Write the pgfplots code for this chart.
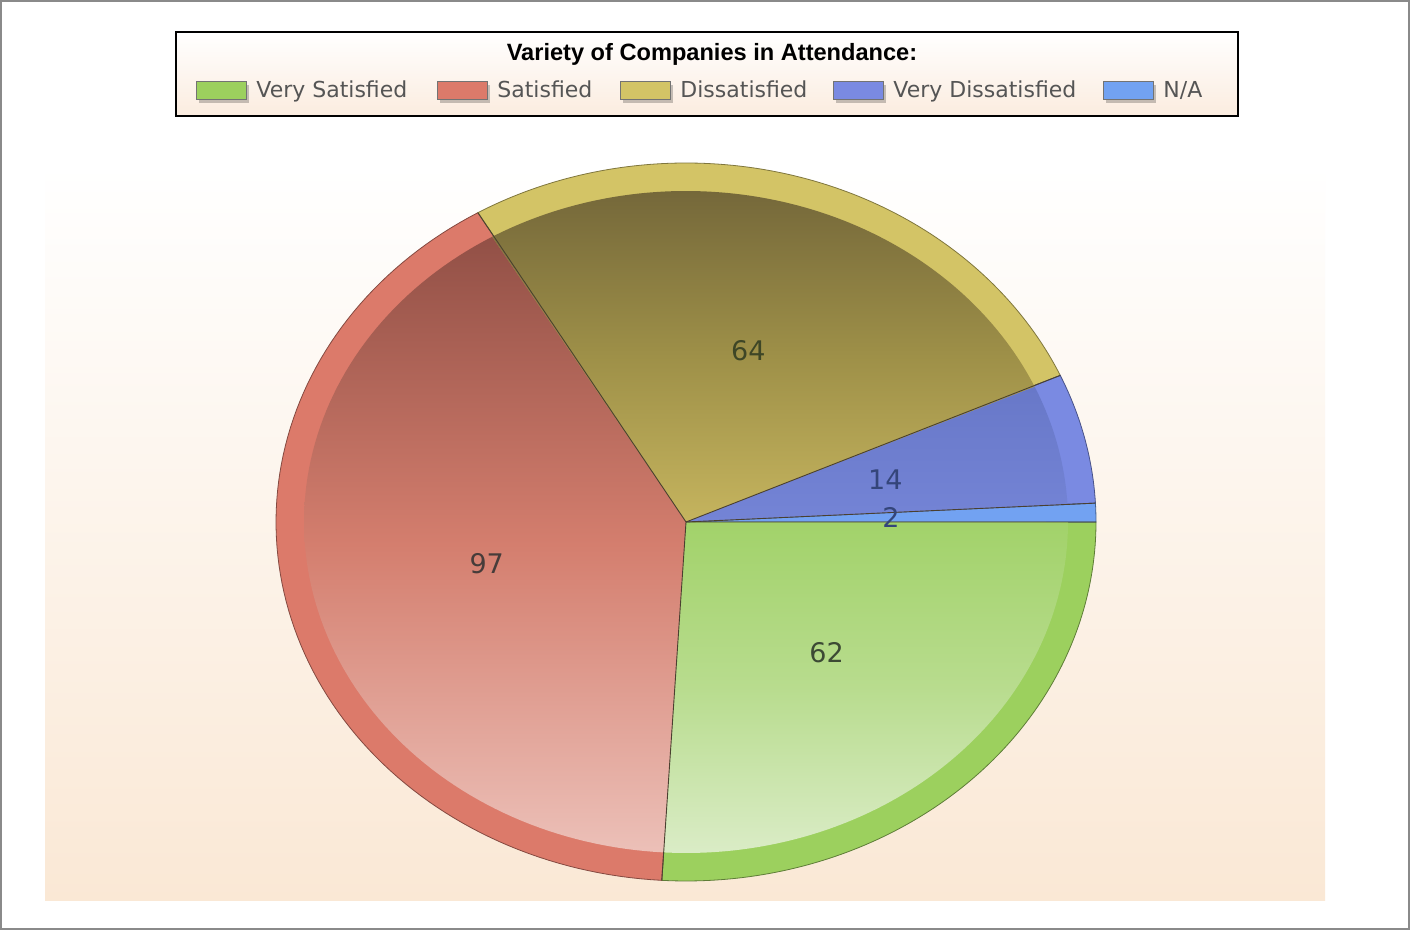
\documentclass[border=0pt]{standalone}
\usepackage{fontspec}
\setmainfont{DejaVu Sans}
\newfontfamily\titlefont{Liberation Sans}
\usepackage{pgfplots}
\pgfplotsset{compat=1.18}

% slice colours: rim, inner top, inner middle, inner bottom
\definecolor{vsrim}{HTML}{9CD05E}
\definecolor{vsT}{HTML}{A2D26A}
\definecolor{vsM}{HTML}{B8DC8E}
\definecolor{vsB}{HTML}{DAECC6}
\definecolor{srim}{HTML}{DC7A6A}
\definecolor{sT}{HTML}{925046}
\definecolor{sM}{HTML}{D47E6E}
\definecolor{sB}{HTML}{ECC0B8}
\definecolor{drim}{HTML}{D3C466}
\definecolor{dT}{HTML}{75683A}
\definecolor{dM}{HTML}{9E9048}
\definecolor{dB}{HTML}{C5B45E}
\definecolor{vdrim}{HTML}{7A8AE2}
\definecolor{vdT}{HTML}{6878C8}
\definecolor{vdB}{HTML}{7484D6}
\definecolor{narim}{HTML}{72A2F2}
\definecolor{bgbot}{HTML}{FAE8D5}
\definecolor{legbot}{HTML}{FBECDF}
\definecolor{frame}{HTML}{8A8A8A}
\definecolor{legtext}{HTML}{555555}
\definecolor{sepc}{HTML}{4A4030}
\definecolor{labA}{HTML}{3C4A34}
\definecolor{labB}{HTML}{463C3A}
\definecolor{labC}{HTML}{3E4626}
\definecolor{labD}{HTML}{34457A}

% data
\def\vVS{62}
\def\vS{97}
\def\vD{64}
\def\vVD{14}
\def\vNA{2}
\pgfmathsetmacro\tot{\vVS+\vS+\vD+\vVD+\vNA}
\pgfmathsetmacro\deg{360/\tot}
\pgfmathsetmacro\aA{-\deg*\vVS}
\pgfmathsetmacro\aB{\aA-\deg*\vS}
\pgfmathsetmacro\aC{\aB-\deg*\vD}
\pgfmathsetmacro\aD{\aC-\deg*\vVD}
\pgfmathsetmacro\aE{\aD-\deg*\vNA}

% label positions (half radius, mid angle)
\pgfmathsetmacro\lAx{686+205*cos(\aA/2)}
\pgfmathsetmacro\lAy{408+179.5*sin(\aA/2)}
\pgfmathsetmacro\lBx{686+205*cos((\aA+\aB)/2)}
\pgfmathsetmacro\lBy{408+179.5*sin((\aA+\aB)/2)}
\pgfmathsetmacro\lCx{686+205*cos((\aB+\aC)/2)}
\pgfmathsetmacro\lCy{408+179.5*sin((\aB+\aC)/2)}
\pgfmathsetmacro\lDx{686+205*cos((\aC+\aD)/2)}
\pgfmathsetmacro\lDy{408+179.5*sin((\aC+\aD)/2)}
\pgfmathsetmacro\lEx{686+205*cos((\aD+\aE)/2)}
\pgfmathsetmacro\lEy{408+179.5*sin((\aD+\aE)/2)}

% boundary end points
\pgfmathsetmacro\bAx{686+410*cos(\aA)}
\pgfmathsetmacro\bAy{408+359*sin(\aA)}
\pgfmathsetmacro\bBx{686+410*cos(\aB)}
\pgfmathsetmacro\bBy{408+359*sin(\aB)}
\pgfmathsetmacro\bCx{686+410*cos(\aC)}
\pgfmathsetmacro\bCy{408+359*sin(\aC)}
\pgfmathsetmacro\bDx{686+410*cos(\aD)}
\pgfmathsetmacro\bDy{408+359*sin(\aD)}

\newcommand\legfont{\fontsize{11}{13}\selectfont}
\newcommand\labfont{\fontsize{13.5}{16}\selectfont}

\begin{document}
\begin{tikzpicture}
\begin{axis}[width=705pt, height=465pt, scale only axis,
  xmin=0, xmax=1410, ymin=0, ymax=930,
  hide axis, clip=false, no markers, samples=100]

% frame and background
\addplot[draw=frame, line width=1pt, fill=white] coordinates {(1,1) (1409,1) (1409,929) (1,929)} -- cycle;
\addplot[draw=none, top color=white, bottom color=bgbot] coordinates {(45,30) (1325,30) (1325,765) (45,765)} -- cycle;

% outer rims
\addplot[draw=vsrim!60!black, line width=0.4pt, fill=vsrim, domain=\aA:0]
  ({686+410*cos(x)},{408+359*sin(x)}) -- (axis cs:686,408) -- cycle;
\addplot[draw=srim!60!black, line width=0.4pt, fill=srim, domain=\aB:\aA]
  ({686+410*cos(x)},{408+359*sin(x)}) -- (axis cs:686,408) -- cycle;
\addplot[draw=drim!60!black, line width=0.4pt, fill=drim, domain=\aC:\aB]
  ({686+410*cos(x)},{408+359*sin(x)}) -- (axis cs:686,408) -- cycle;
\addplot[draw=vdrim!60!black, line width=0.4pt, fill=vdrim, domain=\aD:\aC, samples=30]
  ({686+410*cos(x)},{408+359*sin(x)}) -- (axis cs:686,408) -- cycle;
\addplot[draw=narim!60!black, line width=0.4pt, fill=narim, domain=\aE:\aD, samples=8]
  ({686+410*cos(x)},{408+359*sin(x)}) -- (axis cs:686,408) -- cycle;

% inner shaded faces (middle colour must come last)
\addplot[draw=none, top color=vsT, bottom color=vsB, middle color=vsM, domain=\aA:0]
  ({686+382*cos(x)},{408+331*sin(x)}) -- (axis cs:686,408) -- cycle;
\addplot[draw=none, top color=sT, bottom color=sB, middle color=sM, domain=\aB:\aA]
  ({686+382*cos(x)},{408+331*sin(x)}) -- (axis cs:686,408) -- cycle;
\addplot[draw=none, top color=dT, bottom color=dB, middle color=dM, domain=\aC:\aB]
  ({686+382*cos(x)},{408+331*sin(x)}) -- (axis cs:686,408) -- cycle;
\addplot[draw=none, top color=vdT, bottom color=vdB, domain=\aD:\aC, samples=30]
  ({686+382*cos(x)},{408+331*sin(x)}) -- (axis cs:686,408) -- cycle;

% slice boundaries
\addplot[draw=sepc, line width=0.45pt] coordinates {(1096,408) (686,408) (\bAx,\bAy)};
\addplot[draw=sepc, line width=0.45pt] coordinates {(686,408) (\bBx,\bBy)};
\addplot[draw=sepc, line width=0.45pt] coordinates {(686,408) (\bCx,\bCy)};
\addplot[draw=sepc, line width=0.45pt] coordinates {(686,408) (\bDx,\bDy)};

% slice labels
\node[text=labA, font=\labfont] at (axis cs:\lAx,\lAy) {62};
\node[text=labB, font=\labfont] at (axis cs:\lBx,\lBy) {97};
\node[text=labC, font=\labfont] at (axis cs:\lCx,\lCy) {64};
\node[text=labD, font=\labfont] at (axis cs:\lDx,\lDy) {14};
\node[text=labD, font=\labfont] at (axis cs:\lEx,\lEy) {2};

% legend box
\addplot[draw=black, line width=0.75pt, top color=white, bottom color=legbot] coordinates {(176,814) (1238,814) (1238,898) (176,898)} -- cycle;
\node[anchor=base, font=\titlefont\bfseries\fontsize{11.8}{14}\selectfont] at (axis cs:712,869) {Variety of Companies in Attendance:};

% swatches
\fill[black, opacity=0.22] (axis cs:199,827) rectangle (axis cs:249,845);
\draw[black!55, line width=0.5pt, fill=vsrim] (axis cs:196,830) rectangle (axis cs:246,848);
\fill[black, opacity=0.22] (axis cs:440,827) rectangle (axis cs:490,845);
\draw[black!55, line width=0.5pt, fill=srim] (axis cs:437,830) rectangle (axis cs:487,848);
\fill[black, opacity=0.22] (axis cs:623,827) rectangle (axis cs:673,845);
\draw[black!55, line width=0.5pt, fill=drim] (axis cs:620,830) rectangle (axis cs:670,848);
\fill[black, opacity=0.22] (axis cs:836,827) rectangle (axis cs:886,845);
\draw[black!55, line width=0.5pt, fill=vdrim] (axis cs:833,830) rectangle (axis cs:883,848);
\fill[black, opacity=0.22] (axis cs:1106,827) rectangle (axis cs:1156,845);
\draw[black!55, line width=0.5pt, fill=narim] (axis cs:1103,830) rectangle (axis cs:1153,848);

\node[anchor=base west, inner sep=0pt, text=legtext, font=\legfont] at (axis cs:256,832) {Very Satisfied};
\node[anchor=base west, inner sep=0pt, text=legtext, font=\legfont] at (axis cs:497,832) {Satisfied};
\node[anchor=base west, inner sep=0pt, text=legtext, font=\legfont] at (axis cs:680,832) {Dissatisfied};
\node[anchor=base west, inner sep=0pt, text=legtext, font=\legfont] at (axis cs:893,832) {Very Dissatisfied};
\node[anchor=base west, inner sep=0pt, text=legtext, font=\legfont] at (axis cs:1163,832) {N/A};
\end{axis}
\end{tikzpicture}
\end{document}
